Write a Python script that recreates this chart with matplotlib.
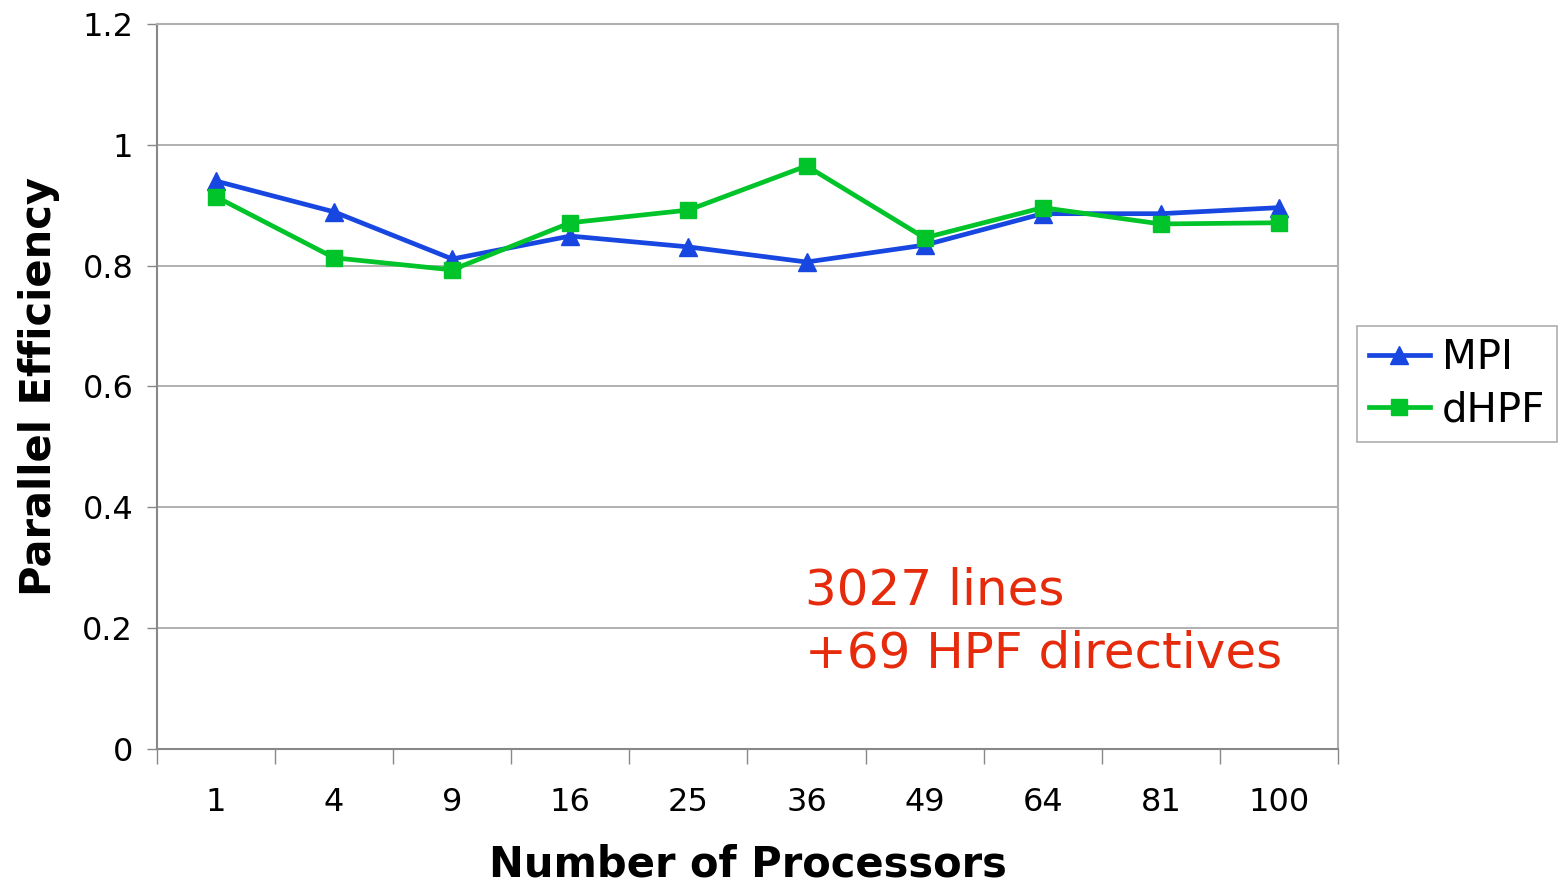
import numpy as np
import matplotlib.pyplot as plt
from matplotlib.ticker import FixedLocator, NullFormatter

processors = ["1", "4", "9", "16", "25", "36", "49", "64", "81", "100"]
mpi = [0.940, 0.889, 0.811, 0.849, 0.831, 0.806, 0.834, 0.886, 0.886, 0.896]
dhpf = [0.914, 0.813, 0.793, 0.871, 0.892, 0.965, 0.846, 0.896, 0.869, 0.871]
y_ticks = [0, 0.2, 0.4, 0.6, 0.8, 1.0, 1.2]
y_labels = ["0", "0.2", "0.4", "0.6", "0.8", "1", "1.2"]

BLUE = "#1747e0"
GREEN = "#00c42a"
RED = "#e62a0c"

fig = plt.figure(figsize=(15.6, 8.84), dpi=100)
ax = fig.add_axes([0.1006, 0.1527, 0.7571, 0.8202])

x = np.arange(len(processors))
ax.plot(x, mpi, color=BLUE, lw=3.4, marker="^", ms=13, label="MPI", zorder=3)
ax.plot(x, dhpf, color=GREEN, lw=3.4, marker="s", ms=12, label="dHPF", zorder=4)

ax.set_xlim(-0.5, len(processors) - 0.5)
ax.set_ylim(0, 1.2)

# category labels sit between the boundary tick marks
ax.xaxis.set_major_locator(FixedLocator(np.arange(-0.5, len(processors), 1.0)))
ax.xaxis.set_major_formatter(NullFormatter())
ax.xaxis.set_minor_locator(FixedLocator(x))
ax.set_xticklabels(processors, minor=True)
ax.tick_params(axis="x", which="major", length=11, width=1, color="#888888")
ax.tick_params(axis="x", which="minor", length=0, pad=27, labelsize=23)

ax.set_yticks(y_ticks)
ax.set_yticklabels(y_labels)
ax.tick_params(axis="y", length=7, width=1, color="#888888", labelsize=23, pad=10)

ax.grid(axis="y", color="#b0b0b0", lw=1.4)
ax.set_axisbelow(True)
for side in ("left", "bottom"):
    ax.spines[side].set_color("#888888")
    ax.spines[side].set_linewidth(1.5)
for side in ("top", "right"):
    ax.spines[side].set_color("#b0b0b0")
    ax.spines[side].set_linewidth(1.5)

ax.set_xlabel("Number of Processors", fontsize=30, fontweight="bold", labelpad=19)
ax.set_ylabel("Parallel Efficiency", fontsize=30, fontweight="bold", labelpad=16)

ax.text(0.549, 0.199, "3027 lines", transform=ax.transAxes, color=RED,
        fontsize=36, ha="left", va="baseline")
ax.text(0.549, 0.112, "+69 HPF directives", transform=ax.transAxes, color=RED,
        fontsize=36, ha="left", va="baseline")

leg = fig.legend(loc="upper left", bbox_to_anchor=(0.870, 0.631), fontsize=29,
                 frameon=True, fancybox=False, edgecolor="#999999",
                 handlelength=1.5, handletextpad=0.3, borderpad=0.3,
                 borderaxespad=0, labelspacing=0.3)
leg.get_frame().set_linewidth(1.2)

fig.savefig("out.png", dpi=100)
